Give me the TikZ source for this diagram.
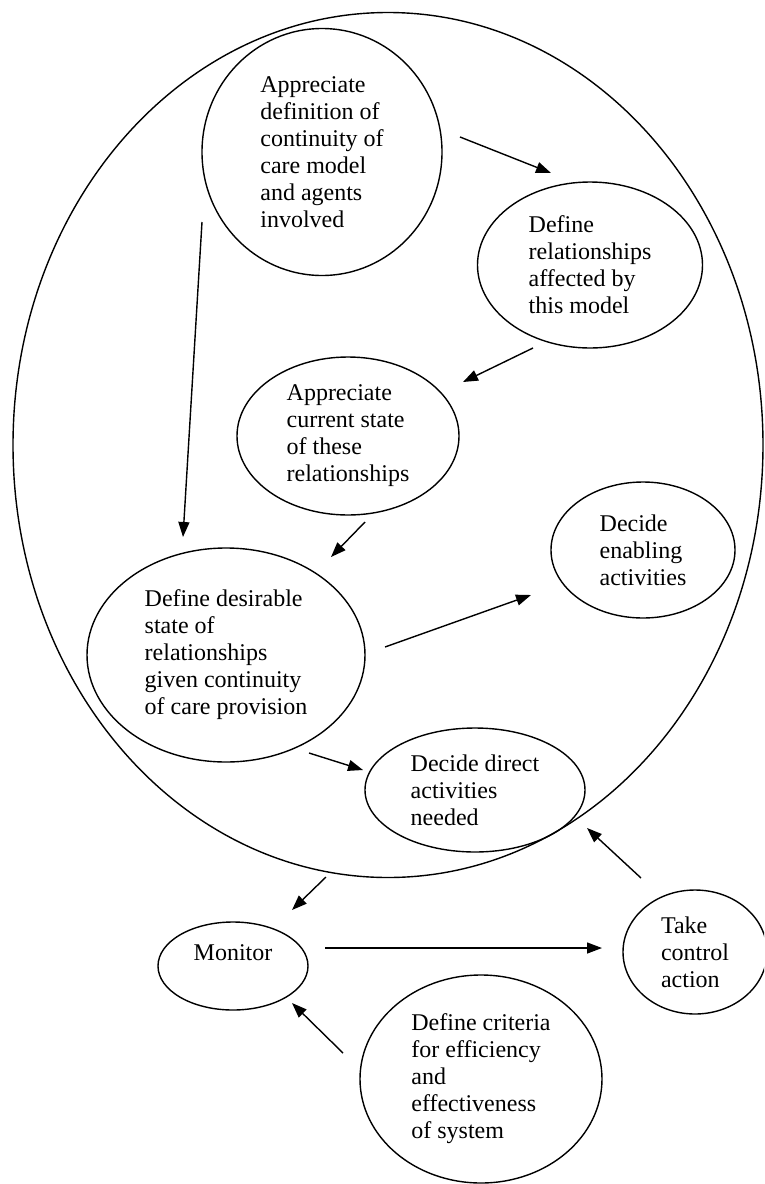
\documentclass[tikz,border=0pt]{standalone}
\usepackage{fontspec}
\setmainfont{Liberation Serif}
\usetikzlibrary{shapes.geometric,arrows.meta}
\begin{document}
\begin{tikzpicture}[x=1pt,y=-1pt,
  bubble/.style={draw,ellipse,line width=1.4pt,inner sep=0pt,align=left,
    font=\fontsize{24}{27}\selectfont},
  arr/.style={line width=1.4pt,-{Triangle[length=15pt,width=11pt]}}]
\useasboundingbox (0,0) rectangle (764,1184);
\fill[white] (0,0) rectangle (764,1184);
\clip (0,0) rectangle (764,1184);

% the system boundary
\node[bubble,minimum width=750pt,minimum height=865pt] (sys) at (388,445) {};

% activities inside the system
\node[bubble,minimum width=240pt,minimum height=247pt] (def) at (322,152)
  {Appreciate\\definition of\\continuity of\\care model\\and agents\\involved};
\node[bubble,minimum width=225pt,minimum height=166pt] (rel) at (590,265)
  {Define\\relationships\\affected by\\this model};
\node[bubble,minimum width=222pt,minimum height=158pt] (cur) at (348,436)
  {Appreciate\\current state\\of these\\relationships};
\node[bubble,minimum width=278pt,minimum height=214pt] (des) at (226,655)
  {Define desirable\\state of\\relationships\\given continuity\\of care provision};
\node[bubble,minimum width=184pt,minimum height=136pt] (ena) at (643,550)
  {Decide\\enabling\\activities};
\node[bubble,minimum width=220pt,minimum height=124pt] (dir) at (475,790)
  {Decide direct\\activities\\needed};

% monitoring and control
\node[bubble,minimum width=150pt,minimum height=88pt,
  label={[yshift=13pt,font=\fontsize{24}{27}\selectfont]center:Monitor}] (mon) at (233,966) {};
\node[bubble,minimum width=144pt,minimum height=124pt] (tak) at (695,952)
  {Take\\control\\action};
\node[bubble,minimum width=242pt,minimum height=208pt] (cri) at (481,1079)
  {Define criteria\\for efficiency\\and\\effectiveness\\of system};

% arrow end points
\coordinate (a1) at (460,137);  \coordinate (a2) at (551,173);
\coordinate (b1) at (533,348);  \coordinate (b2) at (463,382);
\coordinate (c1) at (202,222);  \coordinate (c2) at (183,537);
\coordinate (d1) at (365,522);  \coordinate (d2) at (331,557);
\coordinate (e1) at (385,647);  \coordinate (e2) at (531,595);
\coordinate (f1) at (309,753);  \coordinate (f2) at (363,770);
\coordinate (g1) at (326,877);  \coordinate (g2) at (292,910);
\coordinate (h1) at (325,948);  \coordinate (h2) at (602,948);
\coordinate (i1) at (641,878);  \coordinate (i2) at (587,828);
\coordinate (j1) at (343,1053); \coordinate (j2) at (292,1003);

\draw[arr] (a1) -- (a2);
\draw[arr] (b1) -- (b2);
\draw[arr] (c1) -- (c2);
\draw[arr] (d1) -- (d2);
\draw[arr] (e1) -- (e2);
\draw[arr] (f1) -- (f2);
\draw[arr] (g1) -- (g2);
\draw[arr] (h1) -- (h2);
\draw[arr] (i1) -- (i2);
\draw[arr] (j1) -- (j2);
\end{tikzpicture}
\end{document}
